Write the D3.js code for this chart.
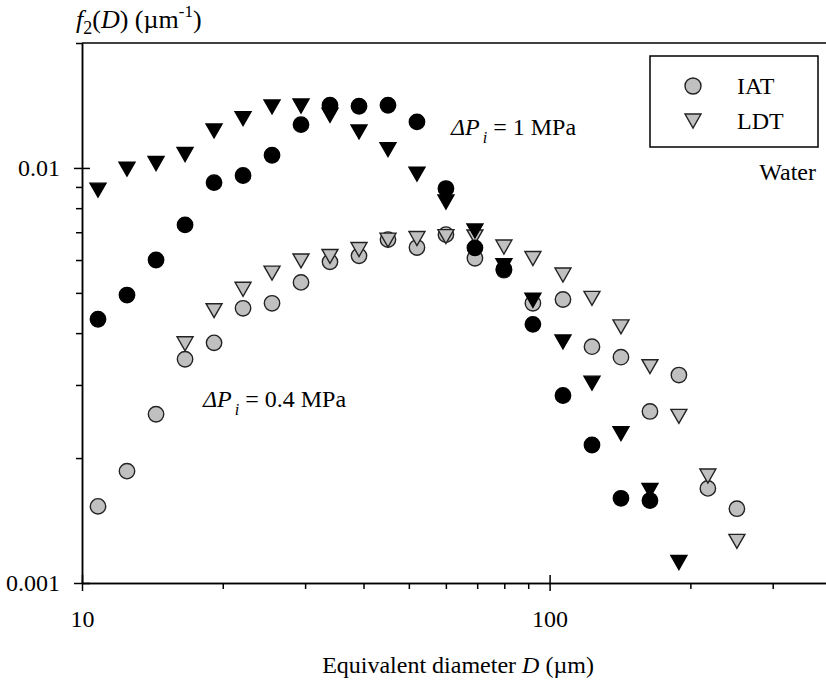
<!DOCTYPE html>
<html lang="en">
<head>
<title>f2(D) - equivalent diameter</title>
<meta charset="utf-8">

<script src="https://cdn.jsdelivr.net/npm/d3@7"></script>

<style type="text/css">

body {
	margin: 0;
	background: #fff;
}

svg text {
	font-family: 'Liberation Serif', 'Times New Roman', Times, 'DejaVu Serif', serif;
	fill: #000;
}

.axis path,
.axis line {
	stroke: #000;
	stroke-width: 1.5;
}

.axis text {
	font-size: 24px;
}

</style>

</head>

<body>

<div id="vis"></div>

<script>

/* Data */
/* ==== */

// equivalent diameter D (um), shared by all series
var diameter = [10.82, 12.48, 14.40, 16.61, 19.16, 22.10, 25.49, 29.40, 33.91, 39.12,
	45.12, 52.04, 60.02, 69.23, 79.85, 92.10, 106.8, 123.2, 142.1, 163.9,
	189.0, 218.0, 251.5];

// dP = 1 MPa
var iat1 = [0.00432, 0.00494, 0.00600, 0.00729, 0.00922, 0.00959, 0.01073, 0.01272, 0.01416, 0.01408,
	0.01416, 0.01291, 0.00892, 0.00642, 0.00570, 0.00420, 0.00283, 0.00215, 0.00160, 0.00158,
	null, null, null];
var ldt1 = [0.00884, 0.00993, 0.01025, 0.01077, 0.01228, 0.01315, 0.01403, 0.01410, 0.01339, 0.01221,
	0.01107, 0.00966, 0.00828, 0.00705, 0.00581, 0.00480, 0.00381, 0.00303, 0.00229, 0.00167,
	0.00112, null, null];

// dP = 0.4 MPa
var iat04 = [0.00153, 0.00186, 0.00255, 0.00346, 0.00379, 0.00459, 0.00472, 0.00530, 0.00594, 0.00614,
	0.00672, 0.00643, 0.00691, 0.00606, 0.00567, 0.00472, 0.00482, 0.00371, 0.00350, 0.00259,
	0.00317, 0.00169, 0.00151];
var ldt04 = [null, null, null, 0.00377, 0.00453, 0.00510, 0.00558, 0.00597, 0.00612, 0.00636,
	0.00670, 0.00676, 0.00683, 0.00682, 0.00645, 0.00605, 0.00552, 0.00485, 0.00414, 0.00332,
	0.00252, 0.00181, 0.00126];

var xMajorTicks = [10, 100];
var xMinorTicks = [20, 30, 40, 50, 60, 70, 80, 90, 200, 300];
var yMajorTicks = [0.001, 0.01];
var yMinorTicks = [0.002, 0.003, 0.004, 0.005, 0.006, 0.007, 0.008, 0.009, 0.02];

var legendItems = ['IAT', 'LDT'];


/* Globals and SVG */
/* =============== */

var margin = { top: 43, right: 0, bottom: 100, left: 82 },
		width = 826 - margin.left - margin.right,
		height = 683 - margin.top - margin.bottom;

var serif = "'Liberation Serif', 'Times New Roman', Times, 'DejaVu Serif', serif";

var svg = d3.select('#vis')
	.append('svg')
		.attr('width', 826)
		.attr('height', 683)
	.append('g')
		.attr('transform', 'translate(' + margin.left + ', ' + margin.top + ')');

var x = d3.scaleLog().domain([10, 390]).range([0, width]);
var y = d3.scaleLog().domain([0.001, 0.02]).range([height, 0]);

var grey = '#c0c0c0';


/* Functions */
/* ========= */

function triPath(w, h) {
	return 'M' + (-w / 2) + ',' + (-h / 2) + 'L' + (w / 2) + ',' + (-h / 2) + 'L0,' + (h / 2) + 'Z';
}

function pairs(values) {
	return diameter
		.map(function(d, i) { return { d: d, v: values[i] }; })
		.filter(function(p) { return p.v != null; });
}

function drawCircles(values, fill, stroke, r) {
	svg.append('g')
		.selectAll('circle')
		.data(pairs(values))
		.join('circle')
			.attr('cx', function(p) { return x(p.d); })
			.attr('cy', function(p) { return y(p.v); })
			.attr('r', r)
			.attr('fill', fill)
			.attr('stroke', stroke)
			.attr('stroke-width', 1.4);
}

function drawTriangles(values, fill, stroke) {
	svg.append('g')
		.selectAll('path')
		.data(pairs(values))
		.join('path')
			.attr('d', triPath(16, 14))
			.attr('transform', function(p) { return 'translate(' + x(p.d) + ',' + y(p.v) + ')'; })
			.attr('fill', fill)
			.attr('stroke', stroke)
			.attr('stroke-width', 1.4);
}

function drawAxes() {

	// minor ticks first, outward only
	svg.append('g')
		.attr('class', 'axis')
		.attr('transform', 'translate(0,' + height + ')')
		.call(d3.axisBottom(x).tickValues(xMinorTicks).tickSize(6).tickSizeOuter(0).tickFormat(''));

	svg.append('g')
		.attr('class', 'axis')
		.call(d3.axisLeft(y).tickValues(yMinorTicks).tickSize(6).tickSizeOuter(0).tickFormat(''));

	// major ticks cross the axis line
	var xAxis = svg.append('g')
		.attr('class', 'axis')
		.attr('transform', 'translate(0,' + height + ')')
		.call(d3.axisBottom(x).tickValues(xMajorTicks).tickSize(8).tickSizeOuter(0)
			.tickPadding(19).tickFormat(d3.format('d')));
	xAxis.selectAll('.tick line').attr('y1', -8);

	var yAxis = svg.append('g')
		.attr('class', 'axis')
		.call(d3.axisLeft(y).tickValues(yMajorTicks).tickSize(8).tickSizeOuter(0)
			.tickPadding(14).tickFormat(function(d) { return d === 0.01 ? '0.01' : '0.001'; }));
	yAxis.selectAll('.tick line').attr('x1', 8);

	svg.selectAll('.axis')
		.attr('font-family', serif)
		.attr('font-size', 24);

	// top frame line
	svg.append('line')
		.attr('x1', 0).attr('x2', width)
		.attr('y1', 0).attr('y2', 0)
		.attr('stroke', '#000')
		.attr('stroke-width', 1.5);

} // drawAxes()

function drawLabels() {

	var root = d3.select('#vis svg');

	// y axis title
	var yt = root.append('text')
		.attr('x', 76)
		.attr('y', 28)
		.attr('font-family', serif)
		.attr('font-size', 26);
	yt.append('tspan').attr('font-style', 'italic').text('f');
	yt.append('tspan').attr('font-size', 18).attr('dy', 6).text('2');
	yt.append('tspan').attr('dy', -6).text('(');
	yt.append('tspan').attr('font-style', 'italic').text('D');
	yt.append('tspan').text(') (\u00b5m');
	yt.append('tspan').attr('font-size', 17).attr('dy', -11).text('-1');
	yt.append('tspan').attr('dy', 11).text(')');

	// x axis title
	var xt = root.append('text')
		.attr('x', margin.left + width / 2 + 4)
		.attr('y', 673)
		.attr('text-anchor', 'middle')
		.attr('font-family', serif)
		.attr('font-size', 24);
	xt.append('tspan').text('Equivalent diameter ');
	xt.append('tspan').attr('font-style', 'italic').text('D');
	xt.append('tspan').text(' (\u00b5m)');

	// pressure annotations
	function pressure(px, py, label) {
		var t = root.append('text')
			.attr('x', px)
			.attr('y', py)
			.attr('font-family', serif)
			.attr('font-size', 24);
		t.append('tspan').attr('font-style', 'italic').text('\u0394P');
		t.append('tspan').attr('font-style', 'italic').attr('font-size', 16).attr('dx', 3).attr('dy', 8).text('i');
		t.append('tspan').attr('dy', -8).text(' = ' + label);
	}
	pressure(451, 135, '1 MPa');
	pressure(203, 407, '0.4 MPa');

	root.append('text')
		.attr('x', 816)
		.attr('y', 180)
		.attr('text-anchor', 'end')
		.attr('font-family', serif)
		.attr('font-size', 24)
		.text('Water');

} // drawLabels()

function drawLegend() {

	var root = d3.select('#vis svg');

	root.append('rect')
		.attr('x', 650).attr('y', 56)
		.attr('width', 168).attr('height', 91)
		.attr('fill', '#fff')
		.attr('stroke', '#000')
		.attr('stroke-width', 1.5);

	var rows = root.append('g')
		.selectAll('g')
		.data(legendItems)
		.join('g')
			.attr('transform', function(d, i) { return 'translate(693,' + (86 + i * 35) + ')'; });

	rows.filter(function(d, i) { return i === 0; })
		.append('circle')
			.attr('r', 8)
			.attr('fill', grey)
			.attr('stroke', '#222')
			.attr('stroke-width', 1.4);

	rows.filter(function(d, i) { return i === 1; })
		.append('path')
			.attr('d', triPath(16, 14))
			.attr('fill', grey)
			.attr('stroke', '#222')
			.attr('stroke-width', 1.4);

	rows.append('text')
		.attr('x', 44)
		.attr('y', 8)
		.attr('font-family', serif)
		.attr('font-size', 24)
		.text(function(d) { return d; });

} // drawLegend()


/* Build */
/* ===== */

drawAxes();

drawCircles(iat04, grey, '#222', 7.7);
drawTriangles(ldt04, grey, '#222');
drawCircles(iat1, '#000', '#000', 7.7);
drawTriangles(ldt1, '#000', '#000');

drawLabels();
drawLegend();

</script>

</body>
</html>
